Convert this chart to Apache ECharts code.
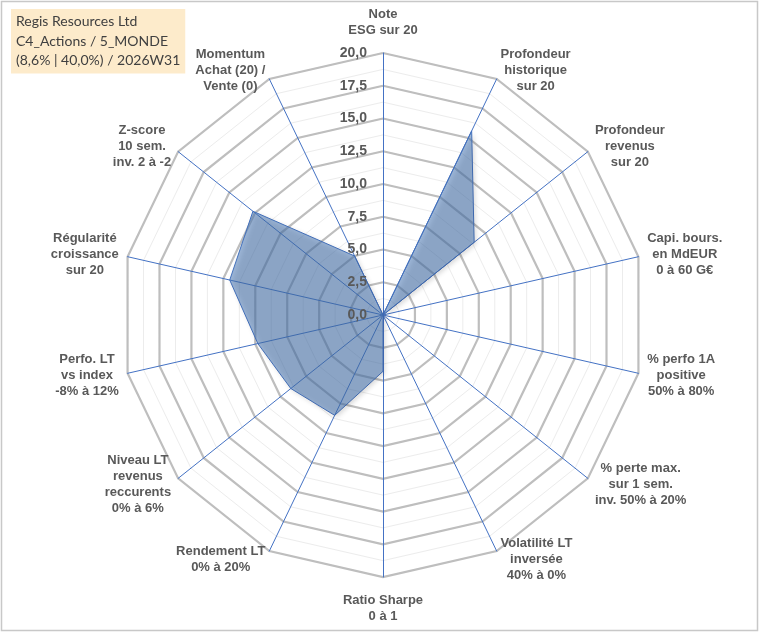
<!DOCTYPE html>
<html>
<head>
<meta charset="utf-8">
<script src="https://cdn.jsdelivr.net/npm/echarts@6/dist/echarts.min.js"></script>
<style>
  html, body { margin: 0; padding: 0; background: #fff; }
  #chart { width: 760px; height: 633px; }
</style>
</head>
<body>
<div id="chart"></div>
<script>
// axes listed clockwise from the top, as read on the picture
const AXIS_NAMES = [
    'Note\nESG sur 20',
    'Profondeur\nhistorique\nsur 20',
    'Profondeur\nrevenus\nsur 20',
    'Capi. bours.\nen MdEUR\n0 à 60 G€',
    '% perfo 1A\npositive\n50% à 80%',
    '% perte max.\nsur 1 sem.\ninv. 50% à 20%',
    'Volatilité LT\ninversée\n40% à 0%',
    'Ratio Sharpe\n0 à 1',
    'Rendement LT\n0% à 20%',
    'Niveau LT\nrevenus\nreccurents\n0% à 6%',
    'Perfo. LT\nvs index\n-8% à 12%',
    'Régularité\ncroissance\nsur 20',
    'Z-score\n10 sem.\ninv. 2 à -2',
    'Momentum\nAchat (20) /\nVente (0)'
];
const SCORES = [0, 15.6, 8.9, 0, 0, 0, 0, 4.3, 8.5, 9.0, 9.8, 12.0, 12.7, 5.0];
const SCALE_MAX = 20;
const SCALE_STEP = 2.5;
const TITLE_LINES = ['Regis Resources Ltd', 'C4_Actions / 5_MONDE', '(8,6% | 40,0%) / 2026W31'];

const CENTER = [383, 315];
const RADIUS = 262;
const LABEL_COLOR = '#595959';
const LABEL_FONT = '"Liberation Sans", Arial, sans-serif';

// echarts lays radar indicators out counter-clockwise, so flip the tail
const toRadarOrder = arr => [arr[0]].concat(arr.slice(1).reverse());

const chart = echarts.init(document.getElementById('chart'), null, { renderer: 'canvas' });

const indicators = toRadarOrder(AXIS_NAMES).map(name => ({ name: name, min: 0, max: SCALE_MAX }));
const topName = AXIS_NAMES[0];
const bottomName = AXIS_NAMES[7];

function formatAxisName(name) {
    let txt = name.split('\n').map(l => '{c|' + l + '}').join('\n');
    // the top and bottom labels sit a little further out than the side ones
    if (name === topName) txt = txt + '\n{g| }';
    if (name === bottomName) txt = '{g| }\n' + txt;
    return txt;
}

const option = {
    backgroundColor: '#fff',
    animation: false,
    title: {
        text: TITLE_LINES.join('\n'),
        left: 11,
        top: 9,
        padding: [3, 5, 3, 5],
        backgroundColor: '#FDEBCB',
        textStyle: {
            fontFamily: 'Lato, sans-serif',
            fontSize: 14,
            fontWeight: 'normal',
            color: '#404040',
            lineHeight: 19.5
        }
    },
    graphic: [{
        type: 'rect',
        shape: { x: 1.5, y: 1.5, width: 756, height: 629 },
        style: { fill: null, stroke: '#C8C8C8', lineWidth: 1.5 },
        silent: true
    }],
    radar: [{
        // thin minor rings
        center: CENTER,
        radius: RADIUS,
        startAngle: 90,
        shape: 'polygon',
        splitNumber: SCALE_MAX / SCALE_STEP * 2,
        indicator: indicators,
        axisName: { show: false },
        axisLine: { show: false },
        splitLine: { lineStyle: { color: '#ECECEC', width: 1 } },
        splitArea: { show: false },
        z: 1
    }, {
        center: CENTER,
        radius: RADIUS,
        startAngle: 90,
        shape: 'polygon',
        splitNumber: SCALE_MAX / SCALE_STEP,
        indicator: indicators,
        nameGap: 9,
        axisName: {
            formatter: formatAxisName,
            rich: {
                c: {
                    align: 'center',
                    color: LABEL_COLOR,
                    fontFamily: LABEL_FONT,
                    fontSize: 13,
                    fontWeight: 'bold',
                    lineHeight: 16
                },
                g: { fontSize: 4, lineHeight: 6 }
            }
        },
        axisLine: { lineStyle: { color: '#4472C4', width: 1 } },
        splitLine: { lineStyle: { color: '#BEBEBE', width: 2.2 } },
        splitArea: { show: false },
        z: 2
    }],
    polar: { center: CENTER, radius: RADIUS },
    angleAxis: { show: false, startAngle: 90, min: 0, max: 360 },
    radiusAxis: {
        min: 0,
        max: SCALE_MAX,
        interval: SCALE_STEP,
        axisLine: { show: false },
        axisTick: { show: false },
        splitLine: { show: false },
        axisLabel: {
            margin: 16,
            color: LABEL_COLOR,
            fontFamily: LABEL_FONT,
            fontSize: 14,
            fontWeight: 'bold',
            formatter: v => v.toFixed(1).replace('.', ',')
        },
        z: 4
    },
    series: [{
        type: 'radar',
        radarIndex: 1,
        symbol: 'none',
        z: 3,
        data: [{
            value: toRadarOrder(SCORES),
            lineStyle: { color: '#4472C4', width: 1 },
            areaStyle: {
                color: 'rgba(70, 118, 180, 0.75)',
                shadowBlur: 5,
                shadowOffsetX: 2,
                shadowOffsetY: 2,
                shadowColor: 'rgba(0, 0, 0, 0.3)'
            }
        }]
    }]
};

chart.setOption(option);
</script>
</body>
</html>
